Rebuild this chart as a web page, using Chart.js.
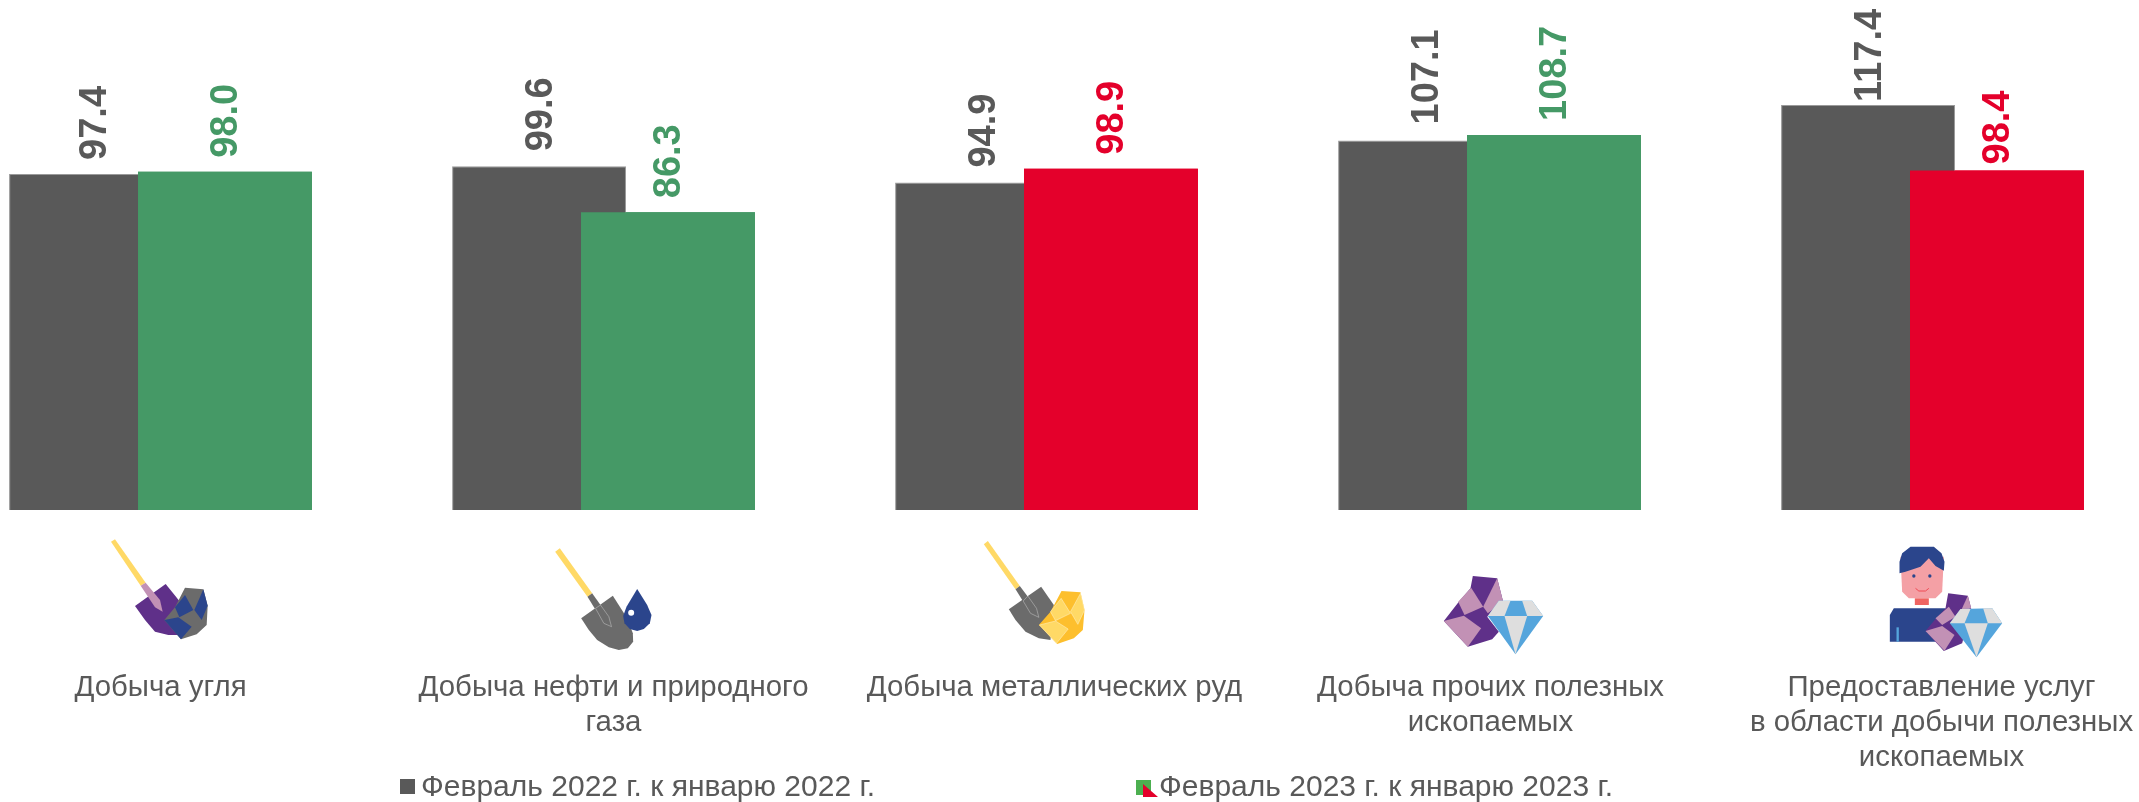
<!DOCTYPE html>
<html lang="ru">
<head>
<meta charset="utf-8">
<title>Добыча полезных ископаемых</title>
<script src="https://cdn.jsdelivr.net/npm/chart.js@4"></script>
<style>
  html, body { margin: 0; background: #fff; overflow: hidden; }
  canvas { display: block; }
</style>
</head>
<body>
<canvas id="chart" width="2139" height="802"></canvas>
<script>
// ===== Данные =====
const categories = [
  ['Добыча угля'],
  ['Добыча нефти и природного', 'газа'],
  ['Добыча металлических руд'],
  ['Добыча прочих полезных', 'ископаемых'],
  ['Предоставление услуг', 'в области добычи полезных', 'ископаемых']
]
const values2022 = [97.4, 99.6, 94.9, 107.1, 117.4]
const values2023 = [98.0, 86.3, 98.9, 108.7, 98.4]
const legendNames = ['Февраль 2022 г. к январю 2022 г.', 'Февраль 2023 г. к январю 2023 г.']

const GRAY = '#595959'
const GREEN = '#459966'
const RED = '#E4002B'
const colors2023 = [GREEN, GREEN, RED, GREEN, RED]

// подгонка подписей под оригинал (px)
const tickShift = [0, 10, 8, 1, 9]
const tickDrop = 161
const labelShift = [[-3, 0, 0, 0, 0], [0, 0, 0, 0, 0]]
const labelGap = [[14, 15, 15, 16, 3], [14, 14, 14, 14, 6]]

// ===== Пиктограммы (координаты в px увеличенного фрагмента, масштаб 1/3) =====
const YELLOW = '#FFD966', SHOVEL = '#6B6B6B', PURPLE = '#5F3089', PINK = '#C291B5'
const NAVY = '#2B458C', SKY = '#55A5DC', LIGHT = '#DEDEDE', GOLD = '#FDBF2D'

const iconCoal = [
  { fill: YELLOW, pts: [33,65, 45,58, 137,188, 122,197] },
  { fill: PURPLE, pts: [105,258, 197,192, 240,245, 235,345, 205,345, 165,335, 135,300] },
  { fill: PINK, pts: [122,197, 137,188, 180,240, 188,275, 165,262] },
  { fill: SHOVEL, pts: [255,203, 310,208, 323,257, 320,315, 290,343, 243,358, 193,300, 225,262] },
  { fill: NAVY, pts: [255,225, 280,270, 238,292, 225,262] },
  { fill: NAVY, pts: [310,208, 323,257, 305,300, 283,270] },
  { fill: NAVY, pts: [193,300, 235,292, 275,320, 243,358] }
]
const iconOil = [
  { fill: YELLOW, pts: [44,65, 58,55, 155,190, 141,200] },
  { fill: SHOVEL, pts: [122,265, 217,197, 260,265, 277,310, 278,335, 262,355, 235,360, 205,352, 170,330, 145,300] },
  { fill: SHOVEL, pts: [141,200, 155,190, 205,260, 213,290, 190,280] },
  { line: '#C8C8C8', pts: [165,235, 190,280, 213,290, 205,260, 180,225] },
  { fill: NAVY, pts: [290,177, 320,225, 333,255, 328,280, 310,297, 290,303, 268,297, 252,280, 248,258, 258,230] },
  { fill: '#fff', circle: [272,248,9] }
]
const iconOre = [
  { fill: YELLOW, pts: [40,43, 52,33, 148,168, 135,178] },
  { fill: SHOVEL, pts: [115,238, 212,170, 250,225, 240,330, 205,325, 165,305, 135,270] },
  { fill: SHOVEL, pts: [135,178, 148,168, 198,235, 205,262, 180,250] },
  { line: '#C8C8C8', pts: [158,213, 180,250, 205,262, 198,235, 172,198] },
  { fill: GOLD, pts: [273,183, 330,187, 342,240, 337,300, 310,325, 260,342, 205,285, 240,245] },
  { fill: YELLOW, line: '#FFF2CC', pts: [272,205, 300,250, 255,272, 240,245] },
  { fill: YELLOW, line: '#FFF2CC', pts: [330,190, 342,240, 322,283, 300,245] },
  { fill: YELLOW, line: '#FFF2CC', pts: [207,285, 255,273, 293,297, 258,340] }
]
const iconGems = [
  { fill: PURPLE, pts: [127,48, 200,55, 218,125, 170,170, 205,215, 185,238, 112,260, 40,183, 85,125, 120,85] },
  { fill: PINK, pts: [122,83, 158,140, 102,165, 83,125] },
  { fill: PINK, pts: [200,55, 218,125, 172,160, 158,140] },
  { fill: PINK, pts: [40,183, 100,167, 152,205, 112,260] },
  { fill: SKY, pts: [205,122, 305,122, 338,168, 255,283, 172,168] },
  { fill: LIGHT, pts: [205,122, 240,122, 222,168, 172,168] },
  { fill: LIGHT, pts: [275,122, 305,122, 338,168, 290,168] },
  { fill: LIGHT, pts: [222,168, 290,168, 255,283] }
]
const iconMiner = [
  { fill: '#F4A0A5', pts: [60,50, 65,155, 85,175, 165,175, 185,155, 190,50] },
  { fill: NAVY, pts: [57,100, 57,65, 65,40, 90,20, 160,20, 183,40, 192,65, 190,92, 165,78, 145,55, 120,80, 75,95] },
  { fill: NAVY, circle: [100,108,5] },
  { fill: NAVY, circle: [148,108,5] },
  { line: '#EF4B55', width: 2, pts: [105,145, 115,153, 135,153, 145,145], open: true },
  { fill: '#EF6461', pts: [103,175, 145,175, 145,195, 103,195] },
  { fill: NAVY, pts: [28,305, 28,225, 40,205, 195,205, 195,305] },
  { fill: SKY, pts: [48,262, 55,262, 55,305, 48,305] },
  { fill: PURPLE, pts: [203,160, 262,167, 272,205, 245,310, 190,333, 135,273, 165,237, 195,205] },
  { fill: PINK, pts: [165,235, 205,200, 225,230, 185,255] },
  { fill: PINK, pts: [135,273, 185,258, 222,285, 192,332] },
  { fill: PINK, pts: [262,167, 272,205, 240,215] },
  { fill: SKY, pts: [240,207, 335,205, 365,250, 288,352, 208,250] },
  { fill: LIGHT, pts: [240,207, 270,207, 252,250, 208,250] },
  { fill: LIGHT, pts: [308,205, 335,205, 365,250, 322,250] },
  { fill: LIGHT, pts: [252,250, 322,250, 288,352] }
]
const icons = [
  { shapes: iconCoal, dx: -60.5, y: 520 },
  { shapes: iconOil, dx: -63, y: 530 },
  { shapes: iconOre, dx: -76, y: 530 },
  { shapes: iconGems, dx: -59, y: 560 },
  { shapes: iconMiner, dx: -52, y: 540 }
]

function drawIcon(ctx, shapes, ox, oy) {
  ctx.save()
  ctx.translate(ox, oy)
  ctx.scale(1 / 3, 1 / 3)
  shapes.forEach(s => {
    ctx.beginPath()
    if (s.circle) {
      ctx.arc(s.circle[0], s.circle[1], s.circle[2], 0, Math.PI * 2)
    } else {
      for (let i = 0; i < s.pts.length; i += 2) ctx.lineTo(s.pts[i], s.pts[i + 1])
      if (!s.open) ctx.closePath()
    }
    if (s.fill) { ctx.fillStyle = s.fill; ctx.fill() }
    if (s.line) { ctx.strokeStyle = s.line; ctx.lineWidth = (s.width || 1) * 3 / 2; ctx.stroke() }
  })
  ctx.restore()
}

// ===== Плагины =====
// подписи категорий опускаем ниже значков, чтобы большой padding не сжимал область графика
const tickShiftPlugin = {
  id: 'tickShift',
  afterLayout(chart) {
    chart.scales.x.getLabelItems().forEach((item, i) => {
      item.options.translation[0] += tickShift[i]
      item.options.translation[1] += tickDrop
    })
  }
}

const valueLabels = {
  id: 'valueLabels',
  afterDatasetsDraw(chart) {
    // второй ряд лежит поверх первого
    chart.getDatasetMeta(1).controller.draw()

    const ctx = chart.ctx
    ctx.save()
    ctx.font = 'bold 38px "Liberation Sans", Arial, sans-serif'
    ctx.textAlign = 'left'
    ctx.textBaseline = 'middle'
    chart.data.datasets.forEach((ds, d) => {
      chart.getDatasetMeta(d).data.forEach((bar, i) => {
        ctx.save()
        ctx.translate(bar.x + labelShift[d][i], bar.y - labelGap[d][i])
        ctx.rotate(-Math.PI / 2)
        ctx.fillStyle = d === 0 ? GRAY : colors2023[i]
        ctx.fillText(ds.data[i].toFixed(1), 0, 2)
        ctx.restore()
      })
    })
    ctx.restore()
  }
}

const decorations = {
  id: 'decorations',
  afterDraw(chart) {
    const ctx = chart.ctx
    const x = chart.scales.x
    icons.forEach((ic, i) => drawIcon(ctx, ic.shapes, x.getPixelForTick(i) + ic.dx, ic.y))

    // легенда
    ctx.save()
    ctx.fillStyle = GRAY
    ctx.fillRect(400, 779, 15, 15)
    ctx.fillStyle = '#4CAF50'
    ctx.fillRect(1136, 780, 15, 15)
    ctx.fillStyle = RED
    ctx.beginPath()
    ctx.moveTo(1143, 784)
    ctx.lineTo(1158, 797)
    ctx.lineTo(1143, 797)
    ctx.closePath()
    ctx.fill()
    ctx.fillStyle = GRAY
    ctx.font = '30px "Liberation Sans", Arial, sans-serif'
    ctx.textBaseline = 'middle'
    ctx.textAlign = 'left'
    ctx.fillText(legendNames[0], 421, 788)
    ctx.fillText(legendNames[1], 1159, 788)
    ctx.restore()
  }
}

// ===== График =====
new Chart(document.getElementById('chart'), {
  type: 'bar',
  data: {
    labels: categories,
    datasets: [
      { label: legendNames[0], data: values2022, backgroundColor: GRAY, borderColor: '#9a9a9a', borderWidth: 1, clip: false },
      { label: legendNames[1], data: values2023, backgroundColor: colors2023, borderWidth: 0, clip: false }
    ]
  },
  options: {
    responsive: false,
    animation: false,
    devicePixelRatio: 1,
    categoryPercentage: 0.582,
    barPercentage: 1.349,
    layout: { padding: { left: 160.5, right: 206.5, top: 0, bottom: 0 } },
    plugins: { legend: { display: false }, tooltip: { enabled: false } },
    scales: {
      x: {
        offset: false,
        afterFit: scale => { scale.height = 292 },
        grid: { display: false, drawTicks: false },
        border: { display: false },
        ticks: {
          color: GRAY,
          padding: 0,
          autoSkip: false,
          maxRotation: 0,
          font: { family: '"Liberation Sans", Arial, sans-serif', size: 29.4, lineHeight: 1.18 }
        }
      },
      y: { display: false, min: 0, max: 147.8 }
    }
  },
  plugins: [tickShiftPlugin, valueLabels, decorations]
})
</script>
</body>
</html>
